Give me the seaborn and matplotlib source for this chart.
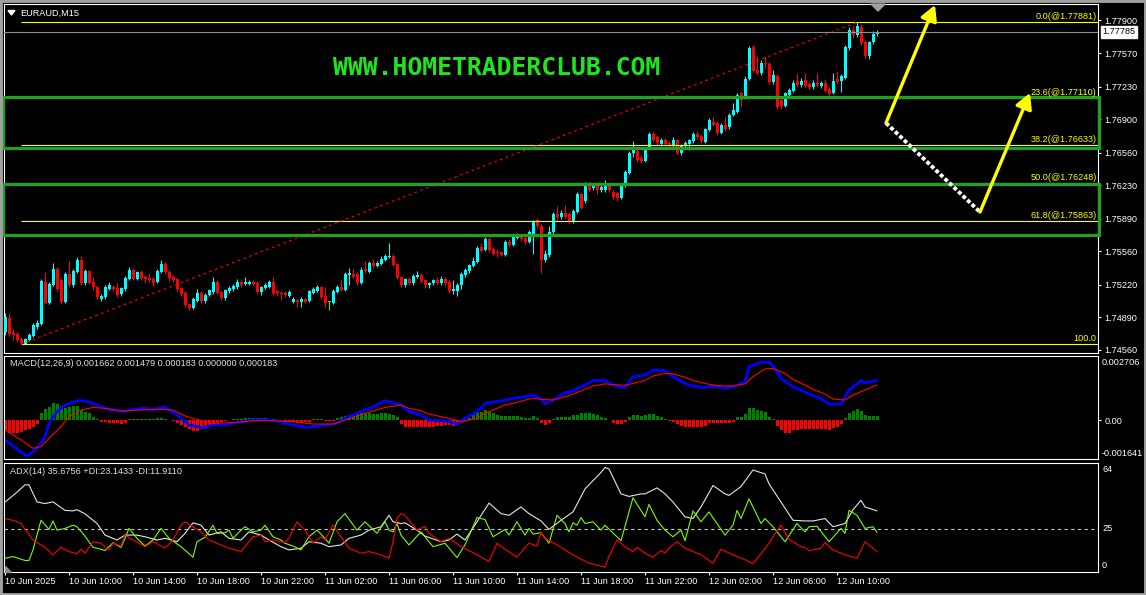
import numpy as np
import matplotlib
matplotlib.use('Agg')
import matplotlib.pyplot as plt
from matplotlib.patches import Rectangle, Polygon
import seaborn as sns

W, H = 1146, 595

# EURAUD M15 candles, one per bar, 10 Jun 06:00 -> 12 Jun 12:30
opens = [
    1.7474, 1.7488, 1.7473, 1.7472, 1.7467, 1.7462, 1.7466, 1.7470, 1.7479, 1.7482,
    1.7525, 1.7504, 1.7522, 1.7538, 1.7527, 1.7505, 1.7533, 1.7522, 1.7535, 1.7547,
    1.7524, 1.7536, 1.7525, 1.7520, 1.7508, 1.7510, 1.7518, 1.7520, 1.7519, 1.7513,
    1.7518, 1.7528, 1.7537, 1.7528, 1.7535, 1.7530, 1.7529, 1.7528, 1.7525, 1.7535,
    1.7543, 1.7535, 1.7530, 1.7528, 1.7519, 1.7514, 1.7503, 1.7498, 1.7506, 1.7514,
    1.7506, 1.7512, 1.7515, 1.7525, 1.7515, 1.7509, 1.7516, 1.7518, 1.7520, 1.7525,
    1.7523, 1.7523, 1.7525, 1.7524, 1.7515, 1.7519, 1.7520, 1.7525, 1.7516, 1.7514,
    1.7514, 1.7511, 1.7505, 1.7507, 1.7505, 1.7508, 1.7506, 1.7514, 1.7516, 1.7520,
    1.7511, 1.7505, 1.7504, 1.7515, 1.7520, 1.7517, 1.7532, 1.7533, 1.7533, 1.7524,
    1.7538, 1.7535, 1.7544, 1.7541, 1.7543, 1.7547, 1.7550, 1.7551, 1.7543, 1.7530,
    1.7522, 1.7528, 1.7524, 1.7530, 1.7532, 1.7527, 1.7522, 1.7524, 1.7527, 1.7524,
    1.7528, 1.7525, 1.7516, 1.7516, 1.7522, 1.7532, 1.7536, 1.7541, 1.7545, 1.7560,
    1.7557, 1.7568, 1.7558, 1.7555, 1.7555, 1.7552, 1.7565, 1.7562, 1.7569, 1.7570,
    1.7569, 1.7565, 1.7570, 1.7588, 1.7582, 1.7547, 1.7552, 1.7576, 1.7594, 1.7591,
    1.7595, 1.7594, 1.7586, 1.7596, 1.7614, 1.7607, 1.7622, 1.7620, 1.7622, 1.7618,
    1.7618, 1.7622, 1.7616, 1.7615, 1.7610, 1.7623, 1.7635, 1.7656, 1.7658, 1.7651,
    1.7648, 1.7661, 1.7675, 1.7672, 1.7665, 1.7669, 1.7666, 1.7663, 1.7669, 1.7656,
    1.7663, 1.7665, 1.7668, 1.7675, 1.7673, 1.7667, 1.7679, 1.7687, 1.7686, 1.7676,
    1.7684, 1.7682, 1.7694, 1.7697, 1.7716, 1.7711, 1.7731, 1.7763, 1.7740, 1.7737,
    1.7747, 1.7746, 1.7728, 1.7734, 1.7709, 1.7703, 1.7714, 1.7719, 1.7729, 1.7725,
    1.7730, 1.7726, 1.7723, 1.7727, 1.7724, 1.7727, 1.7721, 1.7716, 1.7731, 1.7729,
    1.7732, 1.7762, 1.7780, 1.7775, 1.7783, 1.7768, 1.7754, 1.7768, 1.7776,
]
closes = [
    1.7489, 1.7472, 1.7471, 1.7466, 1.7463, 1.7467, 1.7471, 1.7481, 1.7483, 1.7526,
    1.7504, 1.7523, 1.7538, 1.7518, 1.7505, 1.7533, 1.7522, 1.7536, 1.7547, 1.7524,
    1.7536, 1.7524, 1.7520, 1.7510, 1.7511, 1.7520, 1.7522, 1.7518, 1.7512, 1.7519,
    1.7529, 1.7537, 1.7528, 1.7535, 1.7529, 1.7528, 1.7527, 1.7524, 1.7536, 1.7543,
    1.7535, 1.7529, 1.7527, 1.7518, 1.7513, 1.7502, 1.7498, 1.7508, 1.7514, 1.7506,
    1.7512, 1.7517, 1.7525, 1.7514, 1.7509, 1.7517, 1.7519, 1.7521, 1.7525, 1.7522,
    1.7525, 1.7525, 1.7523, 1.7515, 1.7520, 1.7522, 1.7525, 1.7513, 1.7514, 1.7513,
    1.7512, 1.7515, 1.7508, 1.7505, 1.7508, 1.7505, 1.7516, 1.7518, 1.7520, 1.7510,
    1.7504, 1.7505, 1.7516, 1.7520, 1.7517, 1.7533, 1.7534, 1.7530, 1.7524, 1.7537,
    1.7536, 1.7544, 1.7541, 1.7544, 1.7548, 1.7551, 1.7551, 1.7542, 1.7529, 1.7522,
    1.7528, 1.7524, 1.7531, 1.7532, 1.7526, 1.7522, 1.7524, 1.7527, 1.7524, 1.7528,
    1.7524, 1.7516, 1.7518, 1.7522, 1.7533, 1.7537, 1.7542, 1.7546, 1.7559, 1.7556,
    1.7568, 1.7557, 1.7553, 1.7554, 1.7552, 1.7565, 1.7562, 1.7570, 1.7571, 1.7568,
    1.7565, 1.7576, 1.7586, 1.7582, 1.7547, 1.7553, 1.7576, 1.7594, 1.7591, 1.7595,
    1.7591, 1.7586, 1.7597, 1.7614, 1.7600, 1.7622, 1.7618, 1.7622, 1.7618, 1.7621,
    1.7623, 1.7618, 1.7611, 1.7610, 1.7623, 1.7636, 1.7656, 1.7661, 1.7649, 1.7648,
    1.7659, 1.7675, 1.7669, 1.7666, 1.7669, 1.7665, 1.7664, 1.7669, 1.7656, 1.7664,
    1.7666, 1.7669, 1.7675, 1.7672, 1.7668, 1.7680, 1.7689, 1.7684, 1.7676, 1.7684,
    1.7680, 1.7694, 1.7699, 1.7714, 1.7709, 1.7731, 1.7762, 1.7739, 1.7737, 1.7747,
    1.7746, 1.7728, 1.7735, 1.7702, 1.7703, 1.7716, 1.7720, 1.7727, 1.7725, 1.7729,
    1.7724, 1.7723, 1.7727, 1.7725, 1.7727, 1.7719, 1.7715, 1.7729, 1.7728, 1.7734,
    1.7763, 1.7780, 1.7775, 1.7784, 1.7767, 1.7754, 1.7768, 1.7776, 1.77785,
]
highs = [
    1.7493, 1.7493, 1.7477, 1.7474, 1.7469, 1.7468, 1.7473, 1.7483, 1.7486, 1.7528,
    1.7535, 1.7525, 1.7544, 1.7540, 1.7529, 1.7535, 1.7546, 1.7538, 1.7550, 1.7551,
    1.7538, 1.7537, 1.7530, 1.7521, 1.7513, 1.7522, 1.7525, 1.7522, 1.7524, 1.7520,
    1.7531, 1.7540, 1.7539, 1.7536, 1.7537, 1.7532, 1.7534, 1.7530, 1.7538, 1.7547,
    1.7545, 1.7537, 1.7532, 1.7529, 1.7520, 1.7516, 1.7504, 1.7510, 1.7518, 1.7516,
    1.7514, 1.7518, 1.7530, 1.7527, 1.7516, 1.7518, 1.7521, 1.7523, 1.7528, 1.7527,
    1.7530, 1.7527, 1.7527, 1.7526, 1.7521, 1.7524, 1.7527, 1.7530, 1.7517, 1.7516,
    1.7516, 1.7517, 1.7510, 1.7508, 1.7510, 1.7509, 1.7517, 1.7520, 1.7522, 1.7521,
    1.7520, 1.7506, 1.7518, 1.7522, 1.7528, 1.7535, 1.7539, 1.7538, 1.7535, 1.7540,
    1.7546, 1.7546, 1.7548, 1.7546, 1.7551, 1.7553, 1.7564, 1.7553, 1.7544, 1.7531,
    1.7529, 1.7530, 1.7533, 1.7536, 1.7534, 1.7528, 1.7525, 1.7528, 1.7530, 1.7531,
    1.7530, 1.7528, 1.7527, 1.7524, 1.7535, 1.7539, 1.7543, 1.7550, 1.7561, 1.7564,
    1.7570, 1.7570, 1.7560, 1.7558, 1.7556, 1.7567, 1.7568, 1.7574, 1.7575, 1.7572,
    1.7571, 1.7578, 1.7588, 1.7590, 1.7584, 1.7557, 1.7582, 1.7596, 1.7602, 1.7598,
    1.7603, 1.7596, 1.7599, 1.7616, 1.7616, 1.7626, 1.7626, 1.7625, 1.7624, 1.7624,
    1.7628, 1.7624, 1.7618, 1.7616, 1.7624, 1.7638, 1.7658, 1.7668, 1.7660, 1.7654,
    1.7661, 1.7677, 1.7677, 1.7674, 1.7671, 1.7671, 1.7668, 1.7672, 1.7670, 1.7665,
    1.7668, 1.7670, 1.7677, 1.7678, 1.7675, 1.7681, 1.7691, 1.7692, 1.7688, 1.7686,
    1.7692, 1.7696, 1.7706, 1.7716, 1.7718, 1.7734, 1.7764, 1.7765, 1.7754, 1.7750,
    1.7754, 1.7748, 1.7740, 1.7736, 1.7710, 1.7718, 1.7722, 1.7730, 1.7736, 1.7732,
    1.7737, 1.7728, 1.7730, 1.7737, 1.7729, 1.7731, 1.7723, 1.7737, 1.7739, 1.7736,
    1.7765, 1.7783, 1.7784, 1.77881, 1.7786, 1.7770, 1.7769, 1.7779, 1.7780,
]
lows = [
    1.7471, 1.7470, 1.7466, 1.7464, 1.74616, 1.7462, 1.7465, 1.7469, 1.7477, 1.7481,
    1.7503, 1.7503, 1.7521, 1.7516, 1.7503, 1.7504, 1.7520, 1.7520, 1.7534, 1.7522,
    1.7522, 1.7523, 1.7517, 1.7508, 1.7506, 1.7508, 1.7517, 1.7516, 1.7510, 1.7511,
    1.7516, 1.7527, 1.7527, 1.7527, 1.7527, 1.7524, 1.7525, 1.7521, 1.7524, 1.7534,
    1.7533, 1.7526, 1.7525, 1.7516, 1.7511, 1.7500, 1.7496, 1.7497, 1.7505, 1.7504,
    1.7504, 1.7511, 1.7513, 1.7513, 1.7507, 1.7507, 1.7514, 1.7516, 1.7518, 1.7520,
    1.7522, 1.7522, 1.7521, 1.7514, 1.7512, 1.7518, 1.7519, 1.7512, 1.7511, 1.7507,
    1.7510, 1.7510, 1.7504, 1.7500, 1.7500, 1.7504, 1.7505, 1.7513, 1.7515, 1.7508,
    1.7500, 1.7496, 1.7503, 1.7514, 1.7516, 1.7516, 1.7522, 1.7529, 1.7522, 1.7523,
    1.7534, 1.7534, 1.7539, 1.7540, 1.7542, 1.7546, 1.7549, 1.7541, 1.7528, 1.7520,
    1.7520, 1.7522, 1.7522, 1.7529, 1.7524, 1.7519, 1.7519, 1.7522, 1.7522, 1.7522,
    1.7521, 1.7514, 1.7513, 1.7511, 1.7518, 1.7530, 1.7534, 1.7540, 1.7544, 1.7555,
    1.7556, 1.7555, 1.7552, 1.7550, 1.7551, 1.7551, 1.7560, 1.7561, 1.7568, 1.7566,
    1.7563, 1.7564, 1.7553, 1.7580, 1.7534, 1.7545, 1.7550, 1.7574, 1.7587, 1.7589,
    1.7590, 1.7584, 1.7585, 1.7595, 1.7599, 1.7605, 1.7616, 1.7618, 1.7614, 1.7616,
    1.7616, 1.7616, 1.7609, 1.7607, 1.7609, 1.7621, 1.7634, 1.7652, 1.7647, 1.7646,
    1.7647, 1.7660, 1.7667, 1.7664, 1.7663, 1.7663, 1.7662, 1.7661, 1.7654, 1.7654,
    1.7661, 1.7659, 1.7666, 1.7670, 1.7666, 1.7666, 1.7678, 1.7683, 1.7674, 1.7675,
    1.7678, 1.7680, 1.7693, 1.7696, 1.7702, 1.7710, 1.7730, 1.7737, 1.7735, 1.7735,
    1.7742, 1.7726, 1.7726, 1.7700, 1.7700, 1.7702, 1.7713, 1.7718, 1.7723, 1.7723,
    1.7722, 1.7721, 1.7721, 1.7723, 1.7722, 1.7718, 1.7712, 1.7715, 1.7726, 1.7717,
    1.7731, 1.7760, 1.7772, 1.7773, 1.7765, 1.7752, 1.7751, 1.7766, 1.7774,
]

# MACD(12,26,9) in units of 1e-5: histogram per bar, lines read at sampled bars
macd_hist = [
    -42, -53, -56, -53, -49, -42, -39, -31, -17, 28,
    45, 56, 70, 66, 59, 49, 53, 59, 59, 42,
    35, 28, 14, 4, -7, -8, -11, -11, -14, -17,
    -11, 3, 4, 4, 4, 4, 3, 4, 7, 7,
    4, 1, -4, -11, -21, -31, -39, -45, -45, -39,
    -35, -28, -21, -14, -8, -4, 1, 3, 4, 5,
    7, 8, 8, 8, 8, 7, 5, 3, -3, -4,
    -7, -8, -10, -11, -11, -10, -8, 3, 4, 3,
    -4, -6, -6, 7, 14, 18, 21, 24, 28, 28,
    28, 28, 25, 25, 28, 28, 25, 21, 14, -17,
    -28, -31, -31, -28, -28, -28, -29, -28, -25, -25,
    -22, -22, -25, -22, -13, -4, 10, 21, 32, 35,
    42, 35, 28, 21, 17, 17, 17, 17, 17, 14,
    10, 7, 17, 10, -11, -21, -11, 3, 14, 14,
    14, 14, 21, 21, 31, 31, 28, 24, 21, 14,
    10, 1, -14, -17, -17, -7, 14, 21, 21, 17,
    21, 25, 25, 18, 14, 5, -4, -7, -17, -25,
    -31, -31, -31, -31, -28, -25, -14, -11, -14, -14,
    -14, -11, -7, 14, 14, 25, 52, 52, 42, 39,
    35, 14, 3, -25, -42, -53, -53, -42, -42, -37,
    -37, -37, -37, -37, -37, -39, -42, -32, -28, -17,
    7, 31, 38, 47, 38, 21, 17, 17, 18,
]
macd_bars = [0, 5, 6, 8, 10, 11, 13, 15, 18, 20, 23, 26, 30, 32, 35, 37, 40, 41, 43, 45,
             46, 49, 50, 52, 55, 59, 62, 65, 69, 72, 75, 77, 80, 83, 85, 89, 92, 95, 99, 101,
             104, 106, 109, 111, 113, 115, 118, 120, 123, 125, 128, 130, 132, 134, 135, 137, 140, 142, 145, 147,
             150, 152, 155, 157, 160, 162, 165, 167, 170, 172, 175, 177, 180, 182, 185, 186, 189, 191, 192, 194,
             197, 199, 201, 204, 206, 209, 211, 214, 215, 218]
macd_main = [-84, -147, -147, -119, -70, -14, 35, 63, 81, 81, 63, 45, 35, 45, 49, 45, 56, 42, 21, -7,
             -21, -31, -31, -21, -21, -7, 0, 0, -7, -21, -31, -28, -21, -14, 7, 35, 56, 81, 63, 35,
             21, 0, -3, -7, -17, 7, 35, 70, 77, 84, 94, 98, 105, 91, 67, 84, 115, 123, 147, 166,
             166, 147, 137, 182, 189, 210, 208, 182, 154, 143, 137, 144, 133, 140, 161, 224, 243, 243, 227, 175,
             140, 126, 109, 91, 67, 67, 126, 166, 157, 166]
signal_bars = [0, 4, 7, 9, 11, 14, 16, 19, 22, 25, 29, 34, 39, 42, 45, 49, 52, 57, 62, 67,
               72, 77, 82, 85, 90, 95, 99, 101, 104, 106, 109, 111, 114, 115, 118, 120, 123, 125, 128, 130,
               132, 134, 137, 140, 142, 145, 147, 150, 152, 155, 157, 160, 162, 165, 167, 170, 172, 175, 177, 180,
               182, 185, 187, 190, 192, 195, 197, 200, 202, 205, 207, 210, 212, 215, 218]
signal_vals = [-42, -84, -119, -112, -77, -28, 14, 42, 53, 49, 38, 42, 45, 42, 17, -3, -14, -11, -3, -3,
               -7, -17, -17, 0, 28, 53, 63, 49, 39, 25, 14, 7, -7, -4, 7, 28, 49, 63, 74, 84,
               91, 87, 84, 98, 109, 129, 143, 152, 149, 146, 154, 166, 185, 196, 194, 180, 166, 154, 147, 143,
               143, 152, 182, 215, 217, 196, 171, 147, 129, 109, 88, 84, 105, 126, 148]

# ADX(14) lines read at sampled bars
adx_bars = [0, 1, 3, 5, 6, 8, 10, 12, 15, 17, 18, 20, 23, 25, 28, 30, 33, 35, 38, 40,
            43, 45, 47, 49, 51, 54, 56, 59, 61, 64, 66, 69, 71, 74, 76, 79, 81, 84, 86, 89,
            91, 94, 96, 97, 99, 100, 103, 105, 109, 111, 113, 115, 118, 121, 124, 126, 129, 131, 134, 136,
            139, 142, 145, 149, 150, 151, 154, 156, 159, 160, 163, 165, 167, 170, 172, 174, 177, 180, 181, 184,
            187, 190, 191, 194, 197, 200, 202, 205, 207, 210, 212, 214, 215, 218]
adx_vals = [40.9, 42.8, 46.7, 51, 51, 41, 40, 41, 36, 35.7, 36.4, 34, 28.3, 21.5, 18.6, 21.5, 21.5, 20.5, 18.6, 19.6,
            17.6, 22.5, 28.7, 27.3, 21.5, 23.4, 19.6, 18.6, 23.4, 21.5, 18.6, 14.7, 12.8, 13.8, 17.6, 16.7, 14.7, 15.7, 19.6, 21.5,
            24.4, 26.4, 33.1, 29.3, 28.3, 28.7, 24.4, 20.9, 17.6, 18.6, 22.1, 18.6, 29.3, 40.3, 34.1, 33.1, 38, 34.1, 29.8, 24.8,
            30.2, 35.1, 48.6, 58.3, 61.2, 60.3, 45.7, 44.2, 45.7, 45.7, 49.2, 45.7, 40.9, 32.2, 31.2, 38, 50.6, 45.7, 44.8, 50,
            59.7, 57.4, 51.6, 40.9, 30.2, 29.8, 29.8, 31.2, 26.4, 28.3, 36.4, 41.9, 38, 35.7]
pdi_bars = [0, 2, 5, 6, 7, 9, 11, 12, 13, 15, 17, 18, 20, 22, 24, 25, 27, 29, 30, 31,
            33, 35, 37, 39, 41, 44, 47, 48, 50, 52, 53, 55, 56, 57, 59, 60, 62, 64, 65, 67,
            69, 70, 72, 74, 76, 78, 80, 81, 83, 85, 88, 90, 93, 95, 96, 97, 98,
            99, 101, 104, 107, 110, 113, 115, 118, 120, 122, 125, 126, 128, 130, 131, 132, 134, 136, 138, 140,
            141, 142, 143, 144, 145, 147, 149, 150, 154, 157, 160, 161, 163, 165, 167, 169, 170, 172, 174, 176,
            180, 182, 183, 184, 186, 189, 190, 192, 195, 198, 200, 201, 203, 206, 209, 210, 211, 213, 215, 217, 218]
pdi_vals = [7.9, 8.9, 6.6, 6.6, 12.8, 30.2, 24.8, 29.8, 24.4, 25.4, 27.3, 26.4, 20.9, 14.3, 13.2, 12.4, 17, 14.3, 19.6, 25.4,
            19.6, 15.1, 18.6, 25.4, 19.6, 14.7, 8.5, 17.6, 20.2, 27.3, 22.5, 22.9, 24.4, 19.6, 24.4, 26.4, 23.4, 24.4, 27.3, 20.5,
            18.6, 16.7, 15.1, 12.8, 20.5, 24.4, 19.6, 16.7, 29.3, 34.1, 24.4, 29.3, 22.5, 29.3, 24.4, 23.4, 28.3,
            21.5, 15.7, 23.4, 14.7, 16.7, 8.3, 15.7, 31.8, 30.6, 20.5, 24.8, 21.5, 29.3, 21.5, 25.4, 22.1, 22.9, 16.7, 33.1, 28.3,
            23.4, 28.7, 27.3, 31.8, 28.3, 29.3, 24.4, 27.3, 18.2, 43.4, 32.2, 39.5, 30.2, 24.4, 20.5, 24.4, 18.2, 35.7, 29.3, 35.1,
            21.5, 27.3, 36, 31.2, 42.8, 28.3, 31.2, 26.4, 17.6, 28.3, 23.4, 26.4, 26.7, 17.6, 25.4, 22.5, 36, 33.1, 25.4, 26.4, 23.1]
mdi_bars = [0, 2, 4, 7, 10, 12, 14, 16, 18, 19, 20, 22, 24, 26, 27, 29, 30, 32, 35, 37,
            40, 42, 44, 45, 47, 49, 51, 54, 56, 59, 60, 62, 64, 65, 67, 70, 71, 73, 75, 77,
            79, 80, 82, 84, 86, 89, 91, 94, 96, 97, 98,
            99, 100, 101, 103, 105, 106, 109, 111, 114, 117, 121, 123, 125, 128, 130, 131, 133, 134, 135, 138,
            142, 146, 150, 151, 153, 155, 157, 158, 160, 162, 164, 165, 166, 168, 170, 174, 177, 179, 182, 185,
            187, 189, 191, 192, 194, 196, 199, 200, 201, 204, 205, 207, 210, 213, 215, 218]
mdi_vals = [31.2, 30.2, 28.3, 18.6, 14.3, 9.9, 14.3, 11.8, 10.5, 13.2, 10.9, 17.6, 16.7, 12.8, 16.7, 15.1, 21.5, 18.6, 14.7, 17.6,
            13.8, 18.6, 27.3, 29.3, 26.4, 23.4, 18.6, 15.7, 13.8, 11.8, 14.7, 20.5, 21.5, 17.6, 18.6, 17.1, 19.6, 29.3, 24.4, 16.7,
            20.5, 18.6, 27.3, 20.5, 13.8, 10.9, 11.8, 9.9, 7.9, 17.6, 31.2,
            34.1, 33.1, 30.2, 24.4, 26.7, 22.5, 17.6, 19.6, 14.7, 11.2, 6, 16.7, 13.2, 8.5, 14.3, 16.7, 15.1, 22.9, 19.6, 15.7,
            9.9, 5, 2.7, 8.9, 18.6, 14.7, 11.8, 14.3, 10.9, 8.5, 12.4, 10.9, 13.8, 17.6, 13.8, 9.9, 5, 13.2, 9.9, 7,
            4.7, 10.5, 16.7, 20.5, 27.3, 19, 14.7, 14.3, 12.4, 13.8, 17.1, 12.8, 9.9, 7.9, 17.6, 11.9]

time_ticks = [0, 16, 32, 48, 64, 80, 96, 112, 128, 144, 160, 176, 192, 208]
time_labels = ['10 Jun 2025', '10 Jun 10:00', '10 Jun 14:00', '10 Jun 18:00', '10 Jun 22:00',
               '11 Jun 02:00', '11 Jun 06:00', '11 Jun 10:00', '11 Jun 14:00', '11 Jun 18:00',
               '11 Jun 22:00', '12 Jun 02:00', '12 Jun 06:00', '12 Jun 10:00']
price_ticks = [1.77900, 1.77570, 1.77230, 1.76900, 1.76560, 1.76230,
               1.75890, 1.75560, 1.75220, 1.74890, 1.74560]

# objects drawn on the chart
fib_prices = [1.77881, 1.77110, 1.76633, 1.76248, 1.75863, 1.74616]
fib_labels = ['0.0(@1.77881)', '23.6(@1.77110)', '38.2(@1.76633)', '50.0(@1.76248)',
              '61.8(@1.75863)', '100.0']
fib_from, fib_to = 4, 213
zones = [(1.76607, 1.77124), (1.75720, 1.76242)]
arrows = [((220.25, 1.76861), (232.5, 1.78057)), ((243.75, 1.75958), (256.25, 1.77165))]
zigzag = [(220.25, 1.76861), (243.75, 1.75958)]
current_price = 1.77785

sns.set_theme(style='dark', rc={'axes.facecolor': 'black', 'figure.facecolor': 'black'})
plt.rcParams['font.family'] = ['Liberation Sans', 'DejaVu Sans']
FS = 6.6
XLIM = (-0.25, 273.25)

fig = plt.figure(figsize=(W / 100, H / 100), dpi=100, facecolor='black')


def box(top, bottom, left=4, right=1098):
    return [left / W, 1 - bottom / H, (right - left) / W, (bottom - top) / H]


ax = fig.add_axes(box(4, 353.3))
ax_macd = fig.add_axes(box(355.7, 459))
ax_adx = fig.add_axes(box(462.7, 571.7))

for a in (ax, ax_macd, ax_adx):
    a.set_facecolor('black')
    a.set_xlim(*XLIM)
    for s in a.spines.values():
        s.set_color('white')
        s.set_linewidth(0.8)
    a.grid(False)

# candles
o, c, hi, lo = map(np.array, (opens, closes, highs, lows))
x = np.arange(len(c))
col = np.where(c > o, '#00ffff', np.where(c < o, '#ff0000', '#00ff00'))
ax.vlines(x, lo, hi, colors=col, lw=0.75, zorder=2)
ax.bar(x, np.maximum(np.abs(c - o), 0.00008), bottom=np.minimum(o, c) - 0.00002 * (c == o),
       width=0.75, color=col, linewidth=0, zorder=3)
ax.set_ylim(1.745255, 1.780673)

# fibo, zones, arrows
ax.hlines(fib_prices, fib_from, XLIM[1], color='#ffff00', lw=0.8, zorder=4)
for p, t in zip(fib_prices, fib_labels):
    ax.annotate(t, xy=(1, p), xycoords=('axes fraction', 'data'), xytext=(-1, 1),
                textcoords='offset points', ha='right', va='bottom', color='#ffff00', fontsize=FS, zorder=6)
ax.plot([fib_from, fib_to], [lows[fib_from], highs[fib_to]], color='#ff0000', lw=0.8,
        ls=(0, (2.5, 3)), zorder=4)
ax.axhline(current_price, color='#8492a0', lw=0.8, zorder=4)
for z_lo, z_hi in zones:
    ax.add_patch(Rectangle((-0.5, z_lo), 273.9, z_hi - z_lo, fill=False, ec='#22a022',
                           lw=2.3, clip_on=False, zorder=5))
ax.plot([p[0] for p in zigzag], [p[1] for p in zigzag], color='white', lw=2.8,
        ls=(0, (1, 0.6)), zorder=6)
for start, tip in arrows:
    ax.annotate('', xy=tip, xytext=start, annotation_clip=False,
                arrowprops=dict(arrowstyle='-|>,head_length=0.4,head_width=0.22', color='#ffff00',
                                lw=2.4, mutation_scale=23, shrinkA=0, shrinkB=0), zorder=7)

ax.set_xticks([])
ax.set_yticks(price_ticks)
ax.set_yticklabels([f'{p:.5f}' for p in price_ticks])
ax.tick_params(axis='y', left=False, right=True, labelleft=False, labelright=True, colors='white',
               length=2.5, width=0.8, pad=2, labelsize=FS, direction='out')
ax.annotate(f'{current_price:.5f}', xy=(1, current_price), xycoords=('axes fraction', 'data'),
            xytext=(3, 0), textcoords='offset points', ha='left', va='center', color='black', fontsize=FS,
            bbox=dict(boxstyle='square,pad=0.15', fc='white', ec='white'), annotation_clip=False)

# MACD
hist = np.array(macd_hist) * 1e-5
ax_macd.bar(x, hist, width=0.75, color=np.where(hist >= 0, '#008000', '#ff0000'), linewidth=0)
sns.lineplot(x=macd_bars, y=np.array(macd_main) * 1e-5, ax=ax_macd, color='#0000ff', linewidth=2.0,
             errorbar=None, legend=False)
sns.lineplot(x=signal_bars, y=np.array(signal_vals) * 1e-5, ax=ax_macd, color='#ff0000', linewidth=0.8,
             errorbar=None, legend=False)
ax_macd.set_xlim(*XLIM)
ax_macd.set_ylim(-0.001641, 0.002706)
ax_macd.set_xticks([])
ax_macd.set_yticks([0])
ax_macd.set_yticklabels(['0.00'])
ax_macd.tick_params(axis='y', left=False, right=True, labelleft=False, labelright=True, colors='white',
                    length=2.5, width=0.8, pad=2, labelsize=FS, direction='out')
ax_macd.set_xlabel('')
ax_macd.set_ylabel('')
ax_macd.text(1.0037, 0.93, '0.002706', transform=ax_macd.transAxes, color='white', fontsize=FS, va='center')
ax_macd.text(1.0037, 0.058, '-0.001641', transform=ax_macd.transAxes, color='white', fontsize=FS, va='center')

# ADX
ax_adx.axhline(25, color='#c8c8c8', lw=0.8, ls=(0, (3, 3)))
sns.lineplot(x=adx_bars, y=adx_vals, ax=ax_adx, color='#e6e6e6', linewidth=0.8, errorbar=None, legend=False)
sns.lineplot(x=pdi_bars, y=pdi_vals, ax=ax_adx, color='#7cfc00', linewidth=0.8, errorbar=None, legend=False)
sns.lineplot(x=mdi_bars, y=mdi_vals, ax=ax_adx, color='#ff0000', linewidth=0.8, errorbar=None, legend=False)
ax_adx.set_xlim(*XLIM)
ax_adx.set_ylim(0, 64)
ax_adx.set_yticks([])
ax_adx.set_xlabel('')
ax_adx.set_ylabel('')
for frac, t in ((0.942, '64'), (0.392, '25'), (0.061, '0')):
    ax_adx.text(1.0037, frac, t, transform=ax_adx.transAxes, color='white', fontsize=FS, va='center')
ax_adx.set_xticks(time_ticks)
ax_adx.set_xticklabels(time_labels, ha='left')
ax_adx.tick_params(axis='x', bottom=True, colors='white', length=2.5, width=0.8, pad=1.5,
                   labelsize=FS, direction='out')

# window decorations and texts
fig.text(20.5 / W, 1 - 16 / H, 'EURAUD,M15', color='white', fontsize=FS, va='baseline')
fig.patches.append(Polygon([[8 / W, 1 - 10.5 / H], [15 / W, 1 - 10.5 / H], [11.5 / W, 1 - 15 / H]],
                           closed=True, transform=fig.transFigure, color='white'))
fig.patches.append(Polygon([[871 / W, 1 - 4 / H], [885 / W, 1 - 4 / H], [878 / W, 1 - 11 / H]],
                           closed=True, transform=fig.transFigure, color='#a0a0a0'))
fig.patches.append(Polygon([[5 / W, 1 - 566 / H], [5 / W, 1 - 571.5 / H], [11 / W, 1 - 571.5 / H]],
                           closed=True, transform=fig.transFigure, color='#8c8c8c'))
fig.text(333 / W, 1 - 75 / H, 'WWW.HOMETRADERCLUB.COM', color='#1ee61e', fontsize=17.8,
         family='DejaVu Sans Mono', weight='bold', va='baseline', ha='left')
fig.text(9.5 / W, 1 - 364 / H, 'MACD(12,26,9) 0.001662 0.001479 0.000183 0.000000 0.000183',
         color='#e0e0e0', fontsize=FS, va='center')
fig.text(10 / W, 1 - 472 / H, 'ADX(14) 35.6756 +DI:23.1433 -DI:11.9110',
         color='#e0e0e0', fontsize=FS, va='center')
fig.patches.append(Rectangle((0, 0), 1, 1, transform=fig.transFigure, fill=False,
                             ec='#a0a0a0', lw=3.5))

fig.savefig('out.png', dpi=100, facecolor='black')
